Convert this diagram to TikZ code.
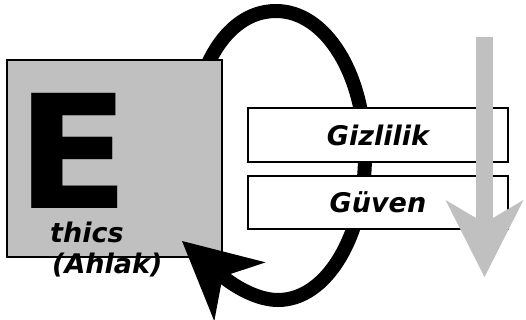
\documentclass[tikz,border=0pt]{standalone}
\usepackage{fontspec}
\setmainfont{DejaVu Sans}
\usepackage{tikz}
\usetikzlibrary{arrows.meta}

\definecolor{boxgray}{RGB}{192,192,192}
\tikzset{
  ebox/.style={draw, line width=1.5pt, fill=boxgray, minimum width=215pt, minimum height=197pt, inner sep=0pt},
  termbox/.style={draw, line width=1.5pt, fill=white, minimum width=260pt, minimum height=54pt, inner sep=0pt,
    font=\fontsize{27}{32}\selectfont\bfseries\itshape},
  label/.style={inner sep=0pt, font=\fontsize{27}{32}\selectfont\bfseries\itshape},
  bigarrow/.style={line width=14pt, -{Stealth[length=77pt, width=78pt, inset=23pt, line width=0pt]}},
  flowarrow/.style={boxgray, line width=17pt, -{Stealth[length=77pt, width=78pt, inset=23pt, line width=0pt]}}
}

\begin{document}
\begin{tikzpicture}[x=1pt, y=-1pt]
  \useasboundingbox (0,0) rectangle (526,320);

  % grey box with the letters
  \node[ebox] (ethics) at (114.5,158.5) {};
  \node[inner sep=0pt, anchor=base, xscale=1.05, transform shape,
    font=\fontsize{158}{160}\selectfont\bfseries] (bigE) at (73,208) {E};
  \node[label, anchor=base west] (thics) at (50,242) {thics};
  \node[label, anchor=base west] (ahlak) at (52,273) {(Ahlak)};

  % loop, hidden where it runs behind the grey box
  \coordinate (loopstart) at (190,155);
  \coordinate (looptop) at (276,11);
  \coordinate (loopright) at (365,155);
  \coordinate (loopbottom) at (278,300);
  \coordinate (looptip) at (182,241);
  \begin{scope}
    \clip (0,0) -- (526,0) -- (526,320) -- (0,320) -- (0,220) -- (224,220) -- (224,59.5) -- (0,59.5) -- cycle;
    \draw[bigarrow] (loopstart) .. controls (190,75) and (224,11) .. (looptop)
      .. controls (326,11) and (365,75) .. (loopright)
      .. controls (365,235) and (327,300) .. (loopbottom)
      .. controls (250,300) and (222,276) .. (looptip);
  \end{scope}

  % boxes
  \node[termbox] (gizli) at (378,135) {Gizlilik};
  \node[termbox, minimum height=53pt] (guven) at (378,202.5) {Güven};

  % grey arrow
  \coordinate (flowtop) at (484.5,37);
  \coordinate (flowend) at (484.5,277);
  \draw[flowarrow] (flowtop) -- (flowend);
\end{tikzpicture}
\end{document}
